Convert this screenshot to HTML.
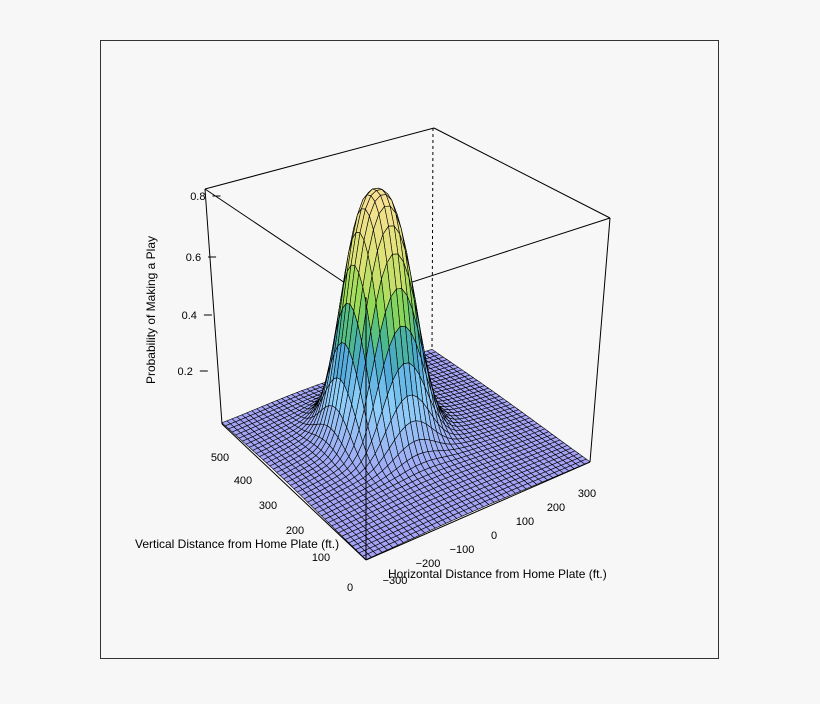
<!DOCTYPE html>
<html><head><style>
html,body{margin:0;padding:0;background:#f7f7f7;}
svg text{font-family:"Liberation Sans",sans-serif;font-size:12px;fill:#000;}
svg text.t{font-size:11px;}
</style></head><body>
<svg id="s" width="820" height="699" viewBox="0 0 820 699" xmlns="http://www.w3.org/2000/svg">
<rect x="0" y="0" width="820" height="699" fill="#f7f7f7"/>
<rect x="100.5" y="40.5" width="618" height="618" fill="none" stroke="#333" stroke-width="1"/>
<g id="back" stroke="#000" stroke-width="1" fill="none">
<line x1="205" y1="189" x2="434" y2="128"/>
<line x1="434" y1="128" x2="610" y2="218"/>
<line x1="205" y1="189" x2="366" y2="297"/>
<line x1="610" y1="218" x2="366" y2="297"/>
<line x1="205" y1="189" x2="222" y2="424"/>
<line x1="610" y1="218" x2="590" y2="462"/>
<line x1="433" y1="128" x2="432" y2="350" stroke-dasharray="3,3"/>
</g>
<g id="surf"></g>
<g stroke="#000" stroke-width="1" fill="none">
<line x1="366" y1="297" x2="366" y2="560"/>
<line x1="222" y1="424" x2="366" y2="560"/>
<line x1="366" y1="560" x2="590" y2="462"/>
</g>
<g id="ticks" stroke="#000" stroke-width="1"></g>
<text x="155" y="310" transform="rotate(-90 155 310)" text-anchor="middle">Probability of Making a Play</text>
<text x="135" y="548">Vertical Distance from Home Plate (ft.)</text>
<text x="388" y="578">Horizontal Distance from Home Plate (ft.)</text>
</svg>
<script>
var F=[366,560],R=[590,462],L=[222,424],B=[432,350];
var TF=[366,297],TR=[610,218],TL=[205,189],TB=[434,128];
function bl(a,b,c,d,u,v){return[a[0]*(1-u)*(1-v)+b[0]*u*(1-v)+c[0]*(1-u)*v+d[0]*u*v,a[1]*(1-u)*(1-v)+b[1]*u*(1-v)+c[1]*(1-u)*v+d[1]*u*v];}
var ZMAX=0.83;
function P(u,v,z){var f=bl(F,R,L,B,u,v),t=bl(TF,TR,TL,TB,u,v),w=z/ZMAX;return[f[0]+(t[0]-f[0])*w,f[1]+(t[1]-f[1])*w];}
var u0=0.46,v0=0.6,su=0.12,sv=0.13;
function Z(u,v){var a=(u-u0)/su,b=(v-v0)/sv,r=a*a+b*b;return 0.82*Math.exp(-0.5*Math.pow(r,1.3))+0.05*Math.exp(-0.5*(r/5));}
var stops=[[0,[165,162,245]],[0.1,[155,185,245]],[0.22,[140,208,250]],[0.33,[75,165,215]],[0.42,[75,185,140]],[0.52,[145,218,85]],[0.65,[218,226,115]],[0.83,[245,225,145]]];
function col(z){for(var i=1;i<stops.length;i++){if(z<=stops[i][0]){var a=stops[i-1],b=stops[i],t=(z-a[0])/(b[0]-a[0]);return'rgb('+[0,1,2].map(function(k){return Math.round(a[1][k]+(b[1][k]-a[1][k])*t)}).join(',')+')';}}return'rgb(245,225,145)';}
var N=42,cells=[];
for(var i=0;i<N;i++)for(var j=0;j<N;j++){cells.push([i,j]);}
cells.sort(function(a,b){return (b[0]+b[1])-(a[0]+a[1]);});
var h='';
cells.forEach(function(c){var u1=c[0]/N,u2=(c[0]+1)/N,v1=c[1]/N,v2=(c[1]+1)/N;
var z1=Z(u1,v1),z2=Z(u2,v1),z3=Z(u2,v2),z4=Z(u1,v2);
var p=[P(u1,v1,z1),P(u2,v1,z2),P(u2,v2,z3),P(u1,v2,z4)];
h+='<polygon points="'+p.map(function(q){return q[0].toFixed(1)+','+q[1].toFixed(1)}).join(' ')+'" fill="'+col((z1+z2+z3+z4)/4)+'" stroke="#000" stroke-width="0.6"/>';});
document.getElementById('surf').innerHTML=h;
var t='';
[[0.2,371],[0.4,315],[0.6,257],[0.8,196]].forEach(function(a){var x=205+17*(424-a[1])/235;t+='<line x1="'+(x-9)+'" y1="'+a[1]+'" x2="'+(x-1)+'" y2="'+a[1]+'"/><text class="t" x="'+(x-16)+'" y="'+(a[1]+4)+'" text-anchor="end" stroke="none">'+a[0]+'</text>';});
[['\u2212300',395,584],['\u2212200',428,567],['\u2212100',462,553],['0',494,539],['100',525,525],['200',556,511],['300',587,497]].forEach(function(a){t+='<text class="t" x="'+a[1]+'" y="'+a[2]+'" text-anchor="middle" stroke="none">'+a[0]+'</text>';});
[['500',220,461],['400',243,484],['300',268,509],['200',295,534],['100',321,561],['0',350,591]].forEach(function(a){t+='<text class="t" x="'+a[1]+'" y="'+a[2]+'" text-anchor="middle" stroke="none">'+a[0]+'</text>';});
document.getElementById('ticks').innerHTML=t;
</script>
</body></html>
